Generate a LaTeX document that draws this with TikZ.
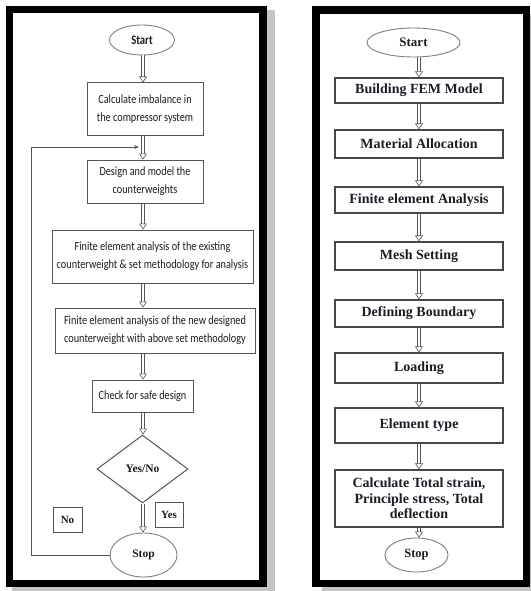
\documentclass[tikz,border=0pt]{standalone}
\usepackage{fontspec}
\setmainfont{Liberation Serif}
\newfontfamily\calibfont[FakeStretch=0.82]{Carlito}
\usetikzlibrary{arrows.meta,positioning,shapes.geometric}
\definecolor{edgegray}{HTML}{555555}
\definecolor{ovalgray}{HTML}{7f7f7f}
\definecolor{shadowgray}{HTML}{c4c4c4}
\definecolor{inkdark}{HTML}{1c1c28}

\begin{document}
\begin{tikzpicture}[
  x=1pt, y=-1pt, >=Stealth,
  stage/.style={draw=edgegray, line width=1pt, inner sep=2pt, align=center,
    text=inkdark, font=\calibfont\fontsize{12.5}{18}\selectfont},
  fstage/.style={draw=edgegray!85!black, line width=1.3pt, inner sep=2pt, align=center,
    minimum width=168pt, text=inkdark, font=\bfseries\fontsize{14}{15.5}\selectfont},
  term/.style={draw=ovalgray, line width=0.9pt, ellipse, inner sep=0pt, text=inkdark},
  dec/.style={draw=edgegray, line width=1pt, diamond, inner sep=0pt, text=inkdark,
    font=\bfseries\fontsize{11.5}{13}\selectfont},
  lbl/.style={draw=edgegray, line width=1pt, inner sep=0pt, text=inkdark,
    font=\bfseries\fontsize{11}{13}\selectfont},
  flow/.style={draw=edgegray, line width=0.6pt, double=white, double distance=2.6pt,
    -{Triangle[open, length=6pt, width=8pt]}},
  fb/.style={draw=edgegray, line width=0.9pt, -{Stealth[length=5pt, width=4pt]}},
  frame/.style={line width=7.5pt, fill=white},
]
\useasboundingbox (0,0) rectangle (530,591);

\fill[shadowgray] (12,10) rectangle (275,591);
\draw[frame] (9.5,9.5) rectangle (263,583.5);
\fill[shadowgray] (322,14) rectangle (534,591);
\draw[frame] (316,10) rectangle (526.5,583.5);

\coordinate (spine) at (143,0);
\node[term, minimum width=65pt, minimum height=30pt,
  font=\calibfont\bfseries\fontsize{13}{15}\selectfont] (start) at (142,40) {Start};
\node[stage, minimum width=116pt, minimum height=52pt] (calc) at (145,109)
  {Calculate imbalance in\\the compressor system};
\node[stage, minimum width=116pt, minimum height=43pt] (design) at (145,181.5)
  {Design and model the\\counterweights};
\node[stage, minimum width=201pt, minimum height=53pt] (feaold) at (152.5,256.5)
  {Finite element analysis of the existing\\counterweight \& set methodology for analysis};
\node[stage, minimum width=200pt, minimum height=45pt] (feanew) at (155,330.5)
  {Finite element analysis of the new designed\\counterweight with above set methodology};
\node[stage, minimum width=101pt, minimum height=32pt] (check) at (142.5,396)
  {Check for safe design};
\node[dec, minimum width=91pt, minimum height=68pt] (yesno) at (142.5,469) {Yes/No};
\node[term, minimum width=67pt, minimum height=44pt,
  font=\bfseries\fontsize{11.5}{13}\selectfont] (stop) at (143.5,555) {Stop};
\node[lbl, minimum width=29pt, minimum height=25pt] (no) at (67.5,519.5) {No};
\node[lbl, minimum width=28pt, minimum height=25pt] (yes) at (169,514.5) {Yes};

\draw[flow] (start.south -| spine) -- (calc.north -| spine);
\draw[flow] (calc.south -| spine) -- (design.north -| spine);
\draw[flow] (design.south -| spine) -- (feaold.north -| spine);
\draw[flow] (feaold.south -| spine) -- (feanew.north -| spine);
\draw[flow] (feanew.south -| spine) -- (check.north -| spine);
\draw[flow] (check.south -| spine) -- (yesno.north -| spine);
\draw[flow] (yesno.south -| spine) -- (stop.north -| spine);
\coordinate (loop) at (31,147);
\coordinate (hit) at (139,147);
\draw[fb] (stop.west) -| (loop) -- (hit);

\coordinate (rspine) at (419,0);
\node[term, minimum width=93pt, minimum height=29pt,
  font=\bfseries\fontsize{13}{15}\selectfont] (rstart) at (413.5,42.5) {Start};
\node[fstage, minimum height=25pt] (fem) at (419,90.5) {Building FEM Model};
\node[fstage, minimum height=28pt] (mat) at (419,144) {Material Allocation};
\node[fstage, minimum height=26pt] (rfea) at (419,200) {Finite element Analysis};
\node[fstage, minimum height=28pt] (mesh) at (419,256) {Mesh Setting};
\node[fstage, minimum height=27pt] (bound) at (419,313.5) {Defining Boundary};
\node[fstage, minimum height=30pt] (load) at (419,368) {Loading};
\node[fstage, minimum height=35pt] (etype) at (419,425.5) {Element type};
\node[fstage, minimum height=57pt] (result) at (419,498.5)
  {Calculate Total strain,\\Principle stress, Total\\deflection};
\node[term, minimum width=63pt, minimum height=34pt,
  font=\bfseries\fontsize{12.5}{14}\selectfont] (rstop) at (416.5,555) {Stop};

\draw[flow] (rstart.south -| rspine) -- (fem.north -| rspine);
\draw[flow] (fem.south -| rspine) -- (mat.north -| rspine);
\draw[flow] (mat.south -| rspine) -- (rfea.north -| rspine);
\draw[flow] (rfea.south -| rspine) -- (mesh.north -| rspine);
\draw[flow] (mesh.south -| rspine) -- (bound.north -| rspine);
\draw[flow] (bound.south -| rspine) -- (load.north -| rspine);
\draw[flow] (load.south -| rspine) -- (etype.north -| rspine);
\draw[flow] (etype.south -| rspine) -- (result.north -| rspine);
\draw[flow] (result.south -| rspine) -- (rstop.north -| rspine);
\end{tikzpicture}
\end{document}
